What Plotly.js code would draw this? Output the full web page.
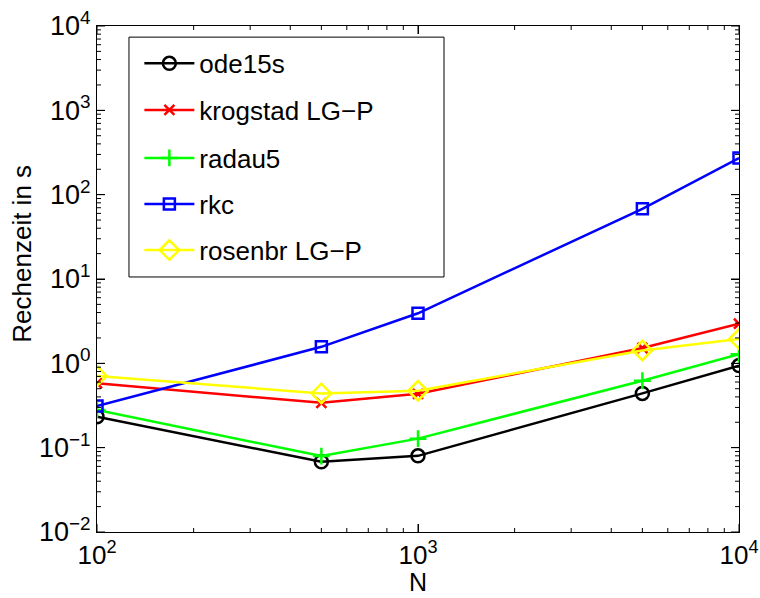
<!DOCTYPE html>
<html>
<head>
<meta charset="utf-8">
<script src="https://cdn.plot.ly/plotly-3.0.1.min.js"></script>
<style>html,body{margin:0;padding:0;background:#fff;}#chart{width:760px;height:598px;}</style>
</head>
<body>
<div id="chart"></div>
<script>
const N = [100, 500, 1000, 5000, 10000];
const ode15s = [0.233, 0.068, 0.080, 0.44, 0.94];
const krogstad = [0.58, 0.34, 0.435, 1.52, 2.95];
const radau5 = [0.279, 0.0795, 0.128, 0.622, 1.28];
const rkc = [0.311, 1.57, 3.92, 68, 272];
const rosenbr = [0.706, 0.44, 0.473, 1.42, 1.94];

const seriesNames = ["ode15s", "krogstad LG\u2212P", "radau5", "rkc", "rosenbr LG\u2212P"];
const xTickVals = [100, 1000, 10000];
const xTickText = ["10<sup>2</sup>", "10<sup>3</sup>", "10<sup>4</sup>"];
const yTickVals = [0.01, 0.1, 1, 10, 100, 1000, 10000];
const yTickText = ["10<sup>\u22122</sup>", "10<sup>\u22121</sup>", "10<sup>0</sup>", "10<sup>1</sup>", "10<sup>2</sup>", "10<sup>3</sup>", "10<sup>4</sup>"];
const mult = [2, 3, 4, 5, 6, 7, 8, 9];
const xMinorVals = [100, 1000].flatMap(d => mult.map(m => d * m));
const yMinorVals = [0.01, 0.1, 1, 10, 100, 1000].flatMap(d => mult.map(m => d * m));

const values = [ode15s, krogstad, radau5, rkc, rosenbr];
const colors = ["#000000", "#ff0000", "#00ff00", "#0000ff", "#ffff00"];
const symbols = ["circle-open", "x-thin-open", "cross-thin-open", "square-open", "diamond-open"];
const sizes = [13, 10, 12, 11, 15];
const legendIds = ["legend", "legend2", "legend3", "legend4", "legend5"];

const traces = values.map((v, i) => ({
  x: N, y: v, name: seriesNames[i], type: "scatter", mode: "lines+markers",
  line: {color: colors[i], width: 2.5},
  marker: {symbol: symbols[i], size: sizes[i], color: colors[i], line: {color: colors[i], width: 2.5}},
  legend: legendIds[i]
}));

const fam = "Liberation Sans, Arial, sans-serif";
const legendY = [0.926, 0.834, 0.739, 0.648, 0.557];
const axBase = {showline: true, linecolor: "#000", linewidth: 1, mirror: "ticks", showgrid: false, zeroline: false,
  ticks: "inside", tickcolor: "#000", tickwidth: 1, ticklen: 8};

// tick marks (inside, on all four sides) built from the tick arrays
const tickShapes = [];
const tl = {color: "#000", width: 1};
function xTick(v, len) {
  tickShapes.push({type: "line", xref: "x", yref: "paper", ysizemode: "pixel", yanchor: 0, x0: v, x1: v, y0: 0, y1: len, line: tl});
  tickShapes.push({type: "line", xref: "x", yref: "paper", ysizemode: "pixel", yanchor: 1, x0: v, x1: v, y0: 0, y1: -len, line: tl});
}
function yTick(v, len) {
  tickShapes.push({type: "line", yref: "y", xref: "paper", xsizemode: "pixel", xanchor: 0, y0: v, y1: v, x0: 0, x1: len, line: tl});
  tickShapes.push({type: "line", yref: "y", xref: "paper", xsizemode: "pixel", xanchor: 1, y0: v, y1: v, x0: 0, x1: -len, line: tl});
}
xTickVals.forEach(v => xTick(v, 8));
xMinorVals.forEach(v => xTick(v, 4));
yTickVals.forEach(v => yTick(v, 8));
yMinorVals.forEach(v => yTick(v, 4));

const layout = {
  width: 760, height: 598,
  margin: {l: 97, r: 21, t: 26, b: 66},
  paper_bgcolor: "#fff", plot_bgcolor: "#fff",
  font: {family: fam, size: 24, color: "#000"},
  showlegend: true,
  xaxis: Object.assign({}, axBase, {
    type: "log", range: [2, 4], tickmode: "array", tickvals: xTickVals, ticktext: xTickText,
    tickfont: {family: fam, size: 26, color: "#000"}
  }),
  yaxis: Object.assign({}, axBase, {
    type: "log", range: [-2, 4], tickmode: "array", tickvals: yTickVals, ticktext: yTickText,
    tickfont: {family: fam, size: 27, color: "#000"}
  }),
  annotations: [
    {text: "Rechenzeit in s", xref: "paper", yref: "paper", x: 0, y: 0.55,
     xshift: -75, xanchor: "center", yanchor: "middle", textangle: -90, showarrow: false,
     font: {family: fam, size: 26, color: "#000"}},
    {text: "N", xref: "paper", yref: "paper", x: 0.5, y: 0, yshift: -66,
     xanchor: "center", yanchor: "bottom", showarrow: false,
     font: {family: fam, size: 25, color: "#000"}}
  ],
  shapes: [{type: "rect", xref: "paper", yref: "paper", x0: 0.0498, x1: 0.5405, y0: 0.504, y1: 0.978,
            line: {color: "#000", width: 1}, fillcolor: "rgba(0,0,0,0)"}].concat(tickShapes)
};
legendIds.forEach((id, i) => {
  layout[id] = {x: 0.066, y: legendY[i], xanchor: "left", yanchor: "middle",
    bgcolor: "rgba(0,0,0,0)", borderwidth: 0, itemwidth: 50,
    font: {family: fam, size: 26, color: "#000"}};
});

Plotly.newPlot("chart", traces, layout, {displayModeBar: false, staticPlot: true});
</script>
</body>
</html>
